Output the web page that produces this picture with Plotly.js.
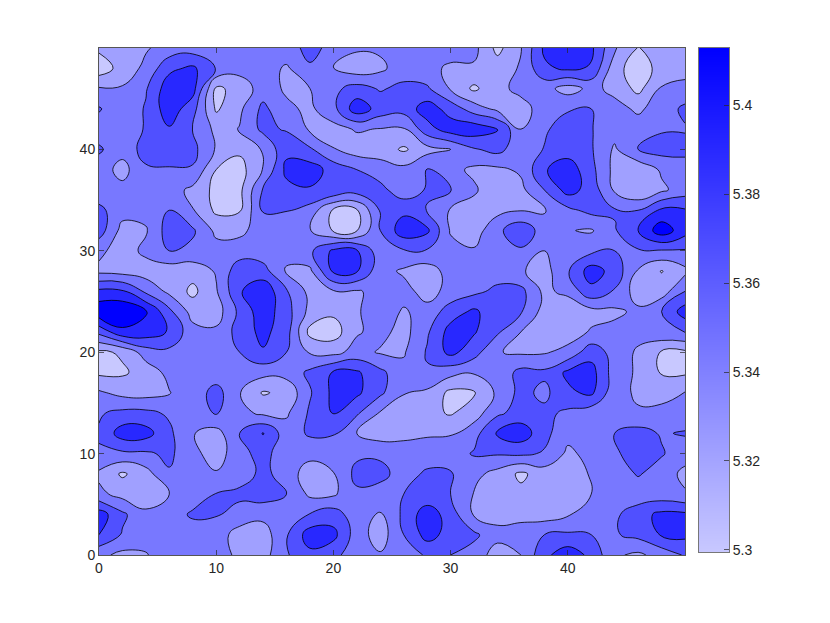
<!DOCTYPE html>
<html><head><meta charset="utf-8">
<script src="https://cdn.plot.ly/plotly-3.0.1.min.js"></script>
<style>html,body{margin:0;padding:0;background:#fff}</style></head>
<body><div id="chart" style="width:830px;height:623px"></div>
<script>
const xVals=[0,2,4,6,8,10,12,14,16,18,20,22,24,26,28,30,32,34,36,38,40,42,44,46,48,50];
const yVals=[50,48,46,44,42,40,38,36,34,32,30,28,26,24,22,20,18,16,14,12,10,8,6,4,2,0];
const zOffsets=[
[24,30,38,48,50,55,50,48,53,65,55,43,43,50,50,48,46,14,39,84,90,84,42,19,30,33],
[8,28,45,75,84,59,48,50,37,58,39,28,36,50,45,37,37,30,42,76,84,78,28,8,28,35],
[42,42,58,92,88,16,27,50,37,40,55,68,58,65,63,38,16,35,45,47,32,45,35,14,42,44],
[62,45,62,92,68,17,36,65,44,36,54,92,72,68,90,72,50,35,33,48,58,60,46,37,48,65],
[50,46,62,78,59,35,41,65,58,37,33,42,39,38,72,90,92,82,40,57,70,61,48,48,58,58],
[63,47,68,66,66,38,24,42,75,63,41,30,30,17,33,40,58,66,48,61,70,62,37,62,68,68],
[50,33,57,59,58,20,12,41,85,90,72,60,50,46,61,46,36,36,43,78,92,66,34,24,43,47],
[48,46,46,49,35,14,15,62,74,78,78,70,66,48,62,62,43,26,35,60,88,72,37,21,36,50],
[65,48,47,60,41,16,18,62,61,52,17,18,62,75,59,38,32,34,39,38,55,66,62,60,84,82],
[70,33,38,70,63,35,35,50,50,41,18,19,60,92,84,38,30,55,75,50,41,38,58,80,112,88],
[45,30,45,61,55,48,50,48,46,56,84,82,48,58,58,47,42,50,57,40,52,55,60,58,58,58],
[35,32,30,28,28,42,72,68,38,36,84,82,47,37,30,48,50,50,42,32,58,90,72,38,19,35],
[85,83,56,35,15,38,78,95,62,34,38,38,46,47,32,47,55,65,66,35,46,74,58,30,30,60],
[115,118,102,65,32,30,65,92,68,34,24,38,50,38,47,70,84,66,62,32,22,33,36,44,60,90],
[66,95,92,78,47,44,68,86,68,14,10,38,46,33,57,88,82,63,40,32,30,42,46,47,56,61],
[16,23,50,55,47,50,60,78,60,38,34,47,38,38,62,86,68,41,37,38,46,72,52,37,18,16],
[16,17,28,46,47,48,48,47,48,64,82,83,65,46,58,47,42,47,66,64,84,88,50,37,18,17],
[43,34,32,39,48,68,41,18,25,58,85,84,64,41,36,15,18,44,66,55,76,84,47,37,35,41],
[58,65,65,57,48,62,46,36,37,63,82,63,38,30,26,18,30,56,68,65,56,48,46,42,44,46],
[62,90,88,64,41,32,60,81,49,63,62,40,30,36,38,38,52,83,92,66,46,46,60,68,58,62],
[58,56,57,64,46,30,53,68,46,46,48,56,56,47,48,50,62,62,64,58,36,46,58,66,62,48],
[36,17,32,58,45,42,48,66,50,30,39,66,67,50,64,62,46,33,16,30,28,42,48,62,50,35],
[45,33,29,40,46,61,66,70,60,36,37,56,50,60,65,60,39,30,25,30,32,40,45,47,48,42],
[90,64,44,47,64,62,50,46,47,61,70,48,38,64,92,70,38,32,36,30,38,50,56,72,85,84],
[80,58,46,48,46,48,33,30,58,90,86,50,30,60,88,72,64,47,46,60,63,60,58,66,82,85],
[45,35,39,48,50,48,36,32,58,75,66,48,42,47,63,60,52,30,40,75,92,75,43,36,48,62]
];
const baseValue=5.3, unit=0.001;
const zValues=zOffsets.map(r=>r.map(v=>baseValue+v*unit));
const bandColors=['#c8c8ff','#a0a0ff','#7878ff','#5050ff','#2828ff','#0000ff'];
const contourStart=5.32, contourEnd=5.40, contourStep=0.02;
const barValues=[5.2995,5.32,5.34,5.36,5.38,5.40,5.4129];
const barTicks=[5.3,5.32,5.34,5.36,5.38,5.4];
const xTicks=[0,10,20,30,40], yTicks=[0,10,20,30,40];

const stepScale=[];
bandColors.forEach((c,i)=>{stepScale.push([i/6,c]);stepScale.push([(i+1)/6,c]);});
const W=830,H=623;
const font={family:'"Liberation Sans",Arial,sans-serif',size:14,color:'#262626'};
const axisCommon={showgrid:false,zeroline:false,showline:true,linecolor:'#555',linewidth:1,mirror:'allticks',ticks:'inside',ticklen:5,tickcolor:'#262626',tickwidth:0.7,tickfont:font};
const traces=[{
  type:'contour',x:xVals,y:yVals,z:zValues,zauto:false,zmin:5.30,zmax:5.42,
  autocontour:false,
  contours:{start:contourStart,end:contourEnd,size:contourStep,coloring:'fill'},
  colorscale:stepScale,showscale:false,
  line:{color:'#000',width:0.8,smoothing:1.3},hoverinfo:'skip',xaxis:'x',yaxis:'y'
},{
  type:'heatmap',x:[0,1],y:barValues,z:barValues.map(v=>[v,v]),zsmooth:'best',zauto:false,zmin:barValues[0],zmax:barValues[barValues.length-1],
  colorscale:[[0,'#c8c8ff'],[1,'#0000ff']],showscale:false,hoverinfo:'skip',xaxis:'x2',yaxis:'y2'
}];
const layout={
  width:W,height:H,margin:{l:0,r:0,t:0,b:0},paper_bgcolor:'#fff',plot_bgcolor:'#fff',showlegend:false,font:font,
  xaxis:Object.assign({},axisCommon,{domain:[99/W,685/W],range:[0,50],tickvals:xTicks,ticktext:xTicks.map(String),anchor:'y'}),
  yaxis:Object.assign({},axisCommon,{domain:[1-555/H,1-48/H],range:[0,50],tickvals:yTicks,ticktext:yTicks.map(String),anchor:'x'}),
  xaxis2:{domain:[699/W,729/W],range:[0,1],showticklabels:false,ticks:'',showgrid:false,zeroline:false,showline:true,mirror:true,linecolor:'#777',linewidth:1,anchor:'y2'},
  yaxis2:{domain:[1-552/H,1-48/H],range:[5.2995,5.4129],side:'right',anchor:'x2',showgrid:false,zeroline:false,showline:true,mirror:true,linecolor:'#777',linewidth:1,ticks:'inside',ticklen:5,tickcolor:'#262626',tickwidth:0.7,tickvals:barTicks,ticktext:barTicks.map(String),tickfont:font}
};
Plotly.newPlot('chart',traces,layout,{displayModeBar:false,staticPlot:true});
</script></body></html>
